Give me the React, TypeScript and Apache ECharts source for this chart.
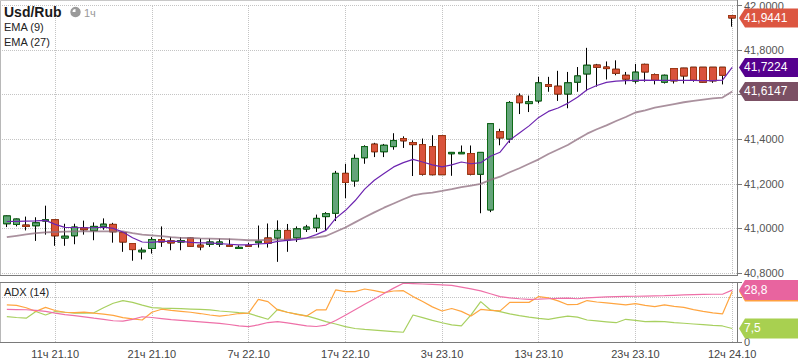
import React, { useEffect, useRef } from "react";
import * as echarts from "echarts";

const categories = [
  "6ч 21.10", "7ч 21.10", "8ч 21.10", "9ч 21.10", "10ч 21.10", "11ч 21.10", "12ч 21.10", "13ч 21.10", "14ч 21.10",
  "15ч 21.10", "16ч 21.10", "17ч 21.10", "18ч 21.10", "19ч 21.10", "20ч 21.10", "21ч 21.10", "22ч 21.10", "23ч 21.10",
  "0ч 22.10", "1ч 22.10", "2ч 22.10", "3ч 22.10", "4ч 22.10", "5ч 22.10", "6ч 22.10", "7ч 22.10", "8ч 22.10", "9ч 22.10",
  "10ч 22.10", "11ч 22.10", "12ч 22.10", "13ч 22.10", "14ч 22.10", "15ч 22.10", "16ч 22.10", "17ч 22.10", "18ч 22.10",
  "19ч 22.10", "20ч 22.10", "21ч 22.10", "22ч 22.10", "23ч 22.10",
  "0ч 23.10", "1ч 23.10", "2ч 23.10", "3ч 23.10", "4ч 23.10", "5ч 23.10", "6ч 23.10", "7ч 23.10", "8ч 23.10", "9ч 23.10",
  "10ч 23.10", "11ч 23.10", "12ч 23.10", "13ч 23.10", "14ч 23.10", "15ч 23.10", "16ч 23.10", "17ч 23.10", "18ч 23.10",
  "19ч 23.10", "20ч 23.10", "21ч 23.10", "22ч 23.10", "23ч 23.10",
  "3ч 24.10", "4ч 24.10", "5ч 24.10", "6ч 24.10", "7ч 24.10", "8ч 24.10", "9ч 24.10", "10ч 24.10", "11ч 24.10", "12ч 24.10",
];

const labelIndices = [5, 15, 25, 35, 45, 55, 65, 75];

const opens = [
  41.021, 41.018, 41.015, 41.012, 41.033, 41.039, 40.957, 40.967, 41.002, 40.990,
  41.009, 41.018, 40.981, 40.932, 40.895, 40.910, 40.950, 40.944, 40.939, 40.957,
  40.925, 40.929, 40.929, 40.924, 40.910, 40.924, 40.936, 40.957, 40.957, 40.991,
  40.958, 40.997, 41.003, 41.053, 41.068, 41.247, 41.213, 41.317, 41.378, 41.344,
  41.367, 41.403, 41.385, 41.376, 41.367, 41.416, 41.335, 41.335, 41.336, 41.243,
  41.083, 41.434, 41.401, 41.594, 41.560, 41.572, 41.645, 41.638, 41.603, 41.656,
  41.693, 41.733, 41.724, 41.714, 41.687, 41.661, 41.736, 41.690, 41.656, 41.717,
  41.719, 41.723, 41.723, 41.723, 41.723, 41.955,
];
const closes = [
  41.056, 41.042, 41.009, 41.025, 41.039, 40.967, 40.965, 41.006, 40.994, 41.009,
  41.019, 40.985, 40.939, 40.905, 40.902, 40.950, 40.939, 40.935, 40.945, 40.920,
  40.917, 40.939, 40.939, 40.920, 40.915, 40.920, 40.942, 40.934, 40.991, 40.949,
  40.998, 41.006, 41.045, 41.066, 41.247, 41.206, 41.314, 41.367, 41.344, 41.373,
  41.394, 41.393, 41.376, 41.243, 41.241, 41.241, 41.341, 41.341, 41.243, 41.341,
  41.470, 41.406, 41.565, 41.564, 41.568, 41.653, 41.637, 41.603, 41.653, 41.684,
  41.732, 41.723, 41.717, 41.696, 41.670, 41.701, 41.702, 41.665, 41.687, 41.662,
  41.684, 41.665, 41.656, 41.662, 41.687, 41.9441,
];
const lows = [
  41.006, 41.009, 40.991, 40.944, 40.972, 40.922, 40.922, 40.929, 40.972, 40.947,
  40.994, 40.936, 40.895, 40.855, 40.861, 40.887, 40.917, 40.902, 40.902, 40.917,
  40.902, 40.917, 40.917, 40.917, 40.908, 40.917, 40.914, 40.914, 40.850, 40.895,
  40.939, 40.984, 40.984, 40.990, 41.033, 41.136, 41.187, 41.290, 41.320, 41.320,
  41.353, 41.361, 41.235, 41.237, 41.238, 41.240, 41.236, 41.335, 41.238, 41.068,
  41.073, 41.373, 41.384, 41.513, 41.522, 41.561, 41.613, 41.572, 41.539, 41.613,
  41.616, 41.636, 41.668, 41.687, 41.646, 41.650, 41.658, 41.646, 41.650, 41.650,
  41.650, 41.658, 41.653, 41.653, 41.646, 41.905,
];
const highs = [
  41.058, 41.044, 41.053, 41.050, 41.102, 41.041, 41.021, 41.021, 41.035, 41.027,
  41.045, 41.025, 40.982, 40.933, 40.914, 40.961, 41.009, 40.961, 40.961, 40.960,
  40.954, 40.954, 40.954, 40.954, 40.924, 40.935, 41.013, 41.022, 41.036, 41.020,
  41.009, 41.016, 41.062, 41.073, 41.258, 41.290, 41.332, 41.373, 41.384, 41.379,
  41.427, 41.413, 41.395, 41.403, 41.418, 41.417, 41.343, 41.372, 41.372, 41.342,
  41.471, 41.447, 41.571, 41.606, 41.596, 41.680, 41.680, 41.707, 41.702, 41.724,
  41.810, 41.738, 41.749, 41.754, 41.702, 41.738, 41.739, 41.695, 41.690, 41.718,
  41.720, 41.724, 41.724, 41.724, 41.724, 41.957,
];

const ema9 = [
  41.031, 41.032, 41.033, 41.034, 41.036, 41.018, 41.005, 41.004, 41.003, 41.003,
  41.006, 41.000, 40.984, 40.958, 40.939, 40.937, 40.942, 40.942, 40.942, 40.937,
  40.935, 40.935, 40.932, 40.929, 40.926, 40.926, 40.930, 40.933, 40.942, 40.946,
  40.950, 40.957, 40.972, 40.991, 41.045, 41.080, 41.124, 41.176, 41.216, 41.246,
  41.276, 41.295, 41.310, 41.298, 41.285, 41.276, 41.285, 41.298, 41.290, 41.295,
  41.324, 41.342, 41.396, 41.428, 41.460, 41.498, 41.525, 41.540, 41.561, 41.588,
  41.622, 41.641, 41.655, 41.661, 41.663, 41.664, 41.665, 41.664, 41.664, 41.664,
  41.664, 41.664, 41.663, 41.663, 41.665, 41.7224,
];
const ema27 = [
  40.961, 40.967, 40.973, 40.979, 40.982, 40.984, 40.986, 40.987, 40.987, 40.987,
  40.987, 40.987, 40.987, 40.979, 40.972, 40.969, 40.965, 40.961, 40.958, 40.957,
  40.955, 40.954, 40.953, 40.952, 40.950, 40.947, 40.947, 40.949, 40.950, 40.951,
  40.953, 40.956, 40.960, 40.966, 40.985, 41.004, 41.027, 41.050, 41.072, 41.093,
  41.112, 41.131, 41.148, 41.156, 41.161, 41.168, 41.176, 41.185, 41.192, 41.200,
  41.218, 41.232, 41.252, 41.270, 41.290, 41.310, 41.334, 41.354, 41.374, 41.400,
  41.425, 41.445, 41.462, 41.482, 41.500, 41.520, 41.530, 41.542, 41.550, 41.558,
  41.566, 41.572, 41.578, 41.583, 41.587, 41.6147,
];

const adx = [
  18.1, 18.0, 17.9, 17.6, 17.0, 16.0, 15.2, 14.6, 13.9, 13.2,
  12.6, 11.8, 11.6, 12.6, 14.0, 13.6, 13.0, 12.4, 12.0, 11.6,
  11.2, 10.8, 10.3, 9.7, 9.0, 8.5, 9.5, 10.8, 11.3, 10.6,
  9.8, 9.0, 8.6, 9.4, 11.9, 14.9, 17.9, 20.9, 23.9, 26.9,
  29.9, 32.6, 32.4, 32.2, 32.0, 31.7, 31.4, 30.5, 29.5, 28.4,
  26.8, 25.2, 24.5, 24.0, 23.7, 23.8, 24.0, 24.2, 24.3, 24.0,
  24.5, 24.8, 25.0, 25.2, 25.3, 25.4, 25.5, 25.6, 25.7, 25.9,
  26.1, 26.3, 26.4, 26.5, 26.5, 28.8,
];
const diPlus = [
  20.6, 20.3, 19.0, 17.0, 19.2, 17.5, 16.5, 16.3, 16.6, 16.0,
  15.5, 14.8, 13.5, 12.8, 12.2, 16.5, 18.2, 17.5, 17.0, 16.5,
  15.8, 15.0, 14.4, 15.0, 15.8, 16.0, 23.7, 22.4, 17.8, 16.5,
  15.3, 14.4, 17.8, 17.8, 28.9, 28.0, 28.0, 29.4, 28.5, 27.4,
  28.3, 28.5, 25.2, 22.5, 19.5, 17.2, 18.6, 17.0, 14.4, 18.1,
  17.6, 17.3, 22.0, 22.0, 22.0, 25.2, 24.5, 22.8, 20.7, 20.9,
  23.0, 22.2, 21.7, 21.2, 20.6, 21.3, 20.3, 19.6, 20.6, 19.8,
  19.2, 18.0, 17.0, 16.2, 15.6, 28.0,
];
const diMinus = [
  14.1, 13.6, 13.2, 16.9, 15.0, 16.9, 16.5, 16.0, 16.0, 16.2,
  19.0, 21.5, 23.0, 22.0, 20.5, 19.1, 18.8, 18.7, 18.5, 18.3,
  18.1, 17.8, 17.2, 16.8, 16.3, 15.9, 14.2, 12.6, 18.1, 16.5,
  15.5, 14.5, 13.0, 11.3, 10.0, 8.5, 7.5, 7.0, 6.6, 6.2,
  5.8, 5.4, 15.0, 13.5, 12.0, 10.7, 9.5, 8.9, 15.0, 22.4,
  17.8, 16.9, 15.6, 14.6, 13.8, 13.1, 12.6, 13.5, 14.4, 13.8,
  12.2, 11.7, 11.2, 10.7, 12.6, 12.0, 11.3, 11.4, 11.3, 10.8,
  10.4, 10.0, 9.6, 9.2, 8.9, 7.5,
];

// Axis labels hidden in the reference because a price tag covers them
const hiddenPriceLabels = [41.6];
// Visible tick label of the ADX panel
const adxAxisLabels = [0];

const FONT = "'Liberation Sans', Arial, sans-serif";
const GRID_LINE = { type: "dotted" as const, color: "#c4c4c4", width: 1 };

function fmt(v: number, d: number) {
  return v.toFixed(d).replace(".", ",");
}

export default function App() {
  const ref = useRef<HTMLDivElement>(null);

  useEffect(() => {
    document.body.style.margin = "0";
    if (!ref.current) return;
    const chart = echarts.init(ref.current, null, { renderer: "svg" });

    const candleData = opens.map((o, i) => [o, closes[i], lows[i], highs[i]]);
    const bodyData = opens.map((o, i) => [o, closes[i], Math.min(o, closes[i]), Math.max(o, closes[i])]);
    const vLines = {
      silent: true,
      z: 1,
      symbol: ["none", "none"],
      label: { show: false },
      lineStyle: GRID_LINE,
      emphasis: { disabled: true },
      animation: false,
      data: labelIndices.map((i) => ({ xAxis: categories[i] })),
    };

    chart.setOption({
      animation: false,
      backgroundColor: "#ffffff",
      textStyle: { fontFamily: FONT },
      grid: [
        { left: 2, top: 3, width: 735, height: 270 },
        { left: 2, top: 282, width: 735, height: 60 },
      ],
      xAxis: [
        {
          type: "category", gridIndex: 0, data: categories, boundaryGap: true,
          axisLine: { show: false }, axisTick: { show: false }, axisLabel: { show: false }, splitLine: { show: false },
        },
        {
          type: "category", gridIndex: 1, data: categories, boundaryGap: true,
          axisLine: { show: false }, axisTick: { show: false }, splitLine: { show: false },
          axisLabel: {
            interval: (i: number) => i % 10 === 5,
            color: "#444", fontSize: 11, lineHeight: 11, fontFamily: FONT, margin: 6,
          },
        },
      ],
      yAxis: [
        {
          type: "value", gridIndex: 0, position: "right", min: 40.8, max: 42.0, interval: 0.2,
          axisLine: { show: false },
          axisTick: { show: true, length: 5, lineStyle: { color: "#7a7a7a" } },
          axisLabel: {
            formatter: (v: number) => (hiddenPriceLabels.some((h) => Math.abs(h - v) < 1e-6) ? "" : fmt(v, 4)),
            color: "#555", fontSize: 11, fontFamily: FONT, margin: 7,
          },
          splitLine: { show: true, lineStyle: GRID_LINE },
        },
        {
          type: "value", gridIndex: 1, position: "right", min: 0, max: 33.3, interval: 25,
          axisLine: { show: false },
          axisTick: { show: true, length: 5, lineStyle: { color: "#7a7a7a" } },
          axisLabel: { show: false },
          splitLine: { show: true, lineStyle: GRID_LINE },
        },
      ],
      series: [
        {
          name: "wicks", type: "candlestick", xAxisIndex: 0, yAxisIndex: 0, data: candleData, barWidth: 7,
          itemStyle: { color: "#000", color0: "#000", borderColor: "#000", borderColor0: "#000", borderWidth: 1 },
          markLine: vLines,
        },
        {
          name: "bodies", type: "candlestick", xAxisIndex: 0, yAxisIndex: 0, data: bodyData, barWidth: 7,
          itemStyle: { color: "#64a47a", color0: "#d9533c", borderColor: "#0d6b16", borderColor0: "#a63a14", borderWidth: 1 },
        },
        {
          name: "EMA (27)", type: "line", xAxisIndex: 0, yAxisIndex: 0, data: ema27, symbol: "none",
          lineStyle: { color: "#8e6c7e", width: 1.8, opacity: 0.75 },
        },
        {
          name: "EMA (9)", type: "line", xAxisIndex: 0, yAxisIndex: 0, data: ema9, symbol: "none",
          lineStyle: { color: "#6d25b0", width: 1.2 },
        },
        {
          name: "-DI", type: "line", xAxisIndex: 1, yAxisIndex: 1, data: diMinus, symbol: "none",
          lineStyle: { color: "#a8d060", width: 1.2 },
          markLine: vLines,
        },
        {
          name: "+DI", type: "line", xAxisIndex: 1, yAxisIndex: 1, data: diPlus, symbol: "none",
          lineStyle: { color: "#ffa540", width: 1.2 },
        },
        {
          name: "ADX", type: "line", xAxisIndex: 1, yAxisIndex: 1, data: adx, symbol: "none",
          lineStyle: { color: "#ee70a8", width: 1.2 },
        },
      ],
    });

    const last = categories.length - 1;
    const py = (v: number, yi: number) => chart.convertToPixel({ yAxisIndex: yi }, v) as number;
    const tag = (y: number, color: string, text: string | null, h = 19) => {
      const els: any[] = [
        {
          type: "polygon", z: 100,
          shape: { points: [[739, y], [745, y - h / 2], [798, y - h / 2], [798, y + h / 2], [745, y + h / 2]] },
          style: { fill: color },
        },
      ];
      if (text) {
        els.push({
          type: "text", z: 101,
          style: { text, x: 744, y, fill: "#fff", fontSize: 12, fontFamily: FONT, verticalAlign: "middle" },
        });
      }
      return els;
    };
    const line = (x1: number, y1: number, x2: number, y2: number, c: string) => ({
      type: "line", z: 50, silent: true, shape: { x1, y1, x2, y2 }, style: { stroke: c, lineWidth: 1 },
    });
    const label = (text: string, x: number, y: number, size: number, color: string, weight = "normal") => ({
      type: "text", z: 60,
      style: { text, x, y, fill: color, fontSize: size, fontWeight: weight, fontFamily: FONT, verticalAlign: "middle" },
    });

    chart.setOption({
      graphic: [
        line(0.5, 0, 0.5, 276, "#b8b8b8"),
        line(0, 0.5, 738, 0.5, "#c8c8c8"),
        line(0, 275.5, 738, 275.5, "#7a7a7a"),
        line(737.5, 0, 737.5, 276, "#7a7a7a"),
        line(0.5, 282, 0.5, 343, "#b8b8b8"),
        line(0, 282.5, 738, 282.5, "#7a7a7a"),
        line(0, 342.5, 738, 342.5, "#7a7a7a"),
        line(737.5, 282, 737.5, 343, "#7a7a7a"),
        label("Usd/Rub", 4, 12, 14, "#1a1a1a", "bold"),
        { type: "circle", z: 60, shape: { cx: 75.5, cy: 12, r: 4.5 }, style: { fill: "#9a9a9a", stroke: "#9a9a9a", lineWidth: 1.5 } },
        { type: "sector", z: 61, shape: { cx: 75.5, cy: 12, r0: 0, r: 3, startAngle: Math.PI, endAngle: Math.PI * 1.5 }, style: { fill: "#fff" } },
        label("1ч", 84, 13, 11, "#999"),
        label("EMA (9)", 4, 27, 11, "#222"),
        label("EMA (27)", 4, 42, 11, "#222"),
        label("ADX (14)", 4, 292, 11, "#222"),
        ...adxAxisLabels.map((v) => label(String(v), 744, py(v, 1), 11, "#555")),
        ...tag(py(ema27[last], 0), "#7b5064", fmt(ema27[last], 4)),
        ...tag(py(ema9[last], 0), "#55008e", fmt(ema9[last], 4)),
        ...tag(py(closes[last], 0), "#dc5641", fmt(closes[last], 4)),
        ...tag(py(diPlus[last], 1), "#ffa040", null, 20),
        ...tag(py(adx[last], 1), "#e8649f", fmt(adx[last], 1), 20),
        ...tag(py(diMinus[last], 1), "#a8d050", fmt(diMinus[last], 1), 20),
      ],
    });

    return () => chart.dispose();
  }, []);

  return <div ref={ref} style={{ position: "absolute", left: 0, top: 0, width: 798, height: 363 }} />;
}
